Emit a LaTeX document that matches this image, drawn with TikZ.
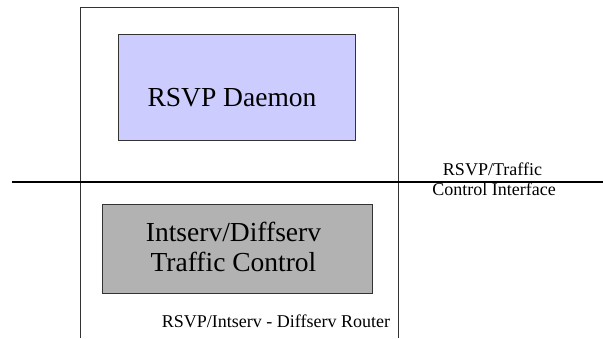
\documentclass[tikz,border=0pt]{standalone}
\usepackage{fontspec}
\setmainfont{Liberation Serif}
\usepackage{tikz}
\usetikzlibrary{positioning}
\definecolor{DaemonBlue}{HTML}{CCCCFF}
\definecolor{TCGray}    {HTML}{B2B2B2}
\definecolor{FrameGray} {HTML}{333333}

\begin{document}
\begin{tikzpicture}[x=1pt,y=-1pt,
    bigbox/.style={draw=FrameGray,line width=0.8pt,inner sep=0pt},
    bigtext/.style={inner sep=0pt,align=center,font=\fontsize{27.5}{30}\selectfont},
    smalltext/.style={inner sep=0pt,align=center,font=\fontsize{18}{20}\selectfont}]
    \useasboundingbox (0,0) rectangle (603,338);
    % Router frame (open at the bottom)
    \draw[FrameGray,line width=0.8pt] (80.7,338) -- (80.7,7.5) -- (398,7.5) -- (398,338);

    % Boxes
    \node[bigbox,fill=DaemonBlue,minimum width=237pt,minimum height=106pt]
      (daemon) at (237.2,87.5) {};
    \node[bigtext,anchor=base] (daemontext) at (232,106) {RSVP Daemon};
    \node[bigbox,fill=TCGray,minimum width=270.7pt,minimum height=89pt]
      (tc) at (237.4,248.8) {};
    \node[bigtext,anchor=base] (tctext1) at (233.5,241.7) {Intserv/Diffserv};
    \node[bigtext,anchor=base] (tctext2) at (233.5,271.7) {Traffic Control};

    % Interface line
    \coordinate (ifl) at (12,182.3);
    \coordinate (ifr) at (603,182.3);
    \draw[black,line width=2pt] (ifl) -- (ifr);
    \node[smalltext,anchor=base] (ifa) at (492.5,175) {RSVP/Traffic};
    \node[smalltext,anchor=base] (ifb) at (494,195) {Control Interface};

    % Router label
    \node[smalltext,anchor=base west] (router) at (161.7,327) {RSVP/Intserv - Diffserv Router};
  \end{tikzpicture}
\end{document}
